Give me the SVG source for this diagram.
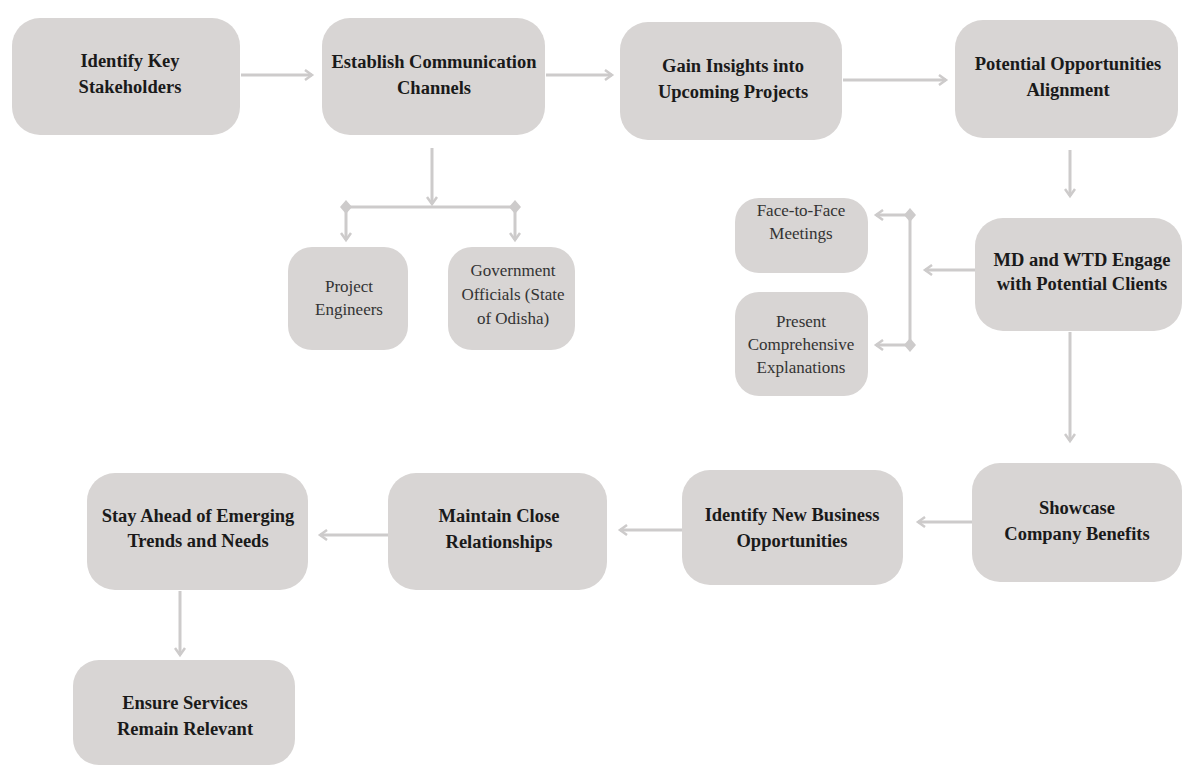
<svg xmlns="http://www.w3.org/2000/svg" width="1182" height="771" viewBox="0 0 1182 771">
<style>
.box{fill:#d8d5d4;}
.t{font-family:"Liberation Serif","Times New Roman",serif;font-weight:bold;font-size:18.5px;fill:#1a1a1a;text-anchor:middle;}
.s{font-family:"Liberation Serif","Times New Roman",serif;font-size:17px;fill:#333333;text-anchor:middle;}
.c{stroke:#cdcbcb;stroke-width:3;fill:none;}
.d{fill:#cdcbcb;}
</style>
<defs>
<marker id="a" markerWidth="12" markerHeight="12" refX="9" refY="6" orient="auto" markerUnits="userSpaceOnUse">
<path d="M2,1 L9,6 L2,11" fill="none" stroke="#cdcbcb" stroke-width="2.5"/>
</marker>
</defs>
<rect width="1182" height="771" fill="#ffffff"/>
<g id="connectors">
<line class="c" x1="241" y1="75" x2="312" y2="75" marker-end="url(#a)"/>
<line class="c" x1="546" y1="75" x2="612" y2="75" marker-end="url(#a)"/>
<line class="c" x1="843" y1="80" x2="946" y2="80" marker-end="url(#a)"/>
<line class="c" x1="432" y1="148" x2="432" y2="204" marker-end="url(#a)"/>
<line class="c" x1="346" y1="207" x2="515" y2="207"/>
<line class="c" x1="346" y1="207" x2="346" y2="240" marker-end="url(#a)"/>
<line class="c" x1="515" y1="207" x2="515" y2="240" marker-end="url(#a)"/>
<path class="d" d="M346,200 L352,207 L346,214 L340,207 Z"/>
<path class="d" d="M515,200 L521,207 L515,214 L509,207 Z"/>
<line class="c" x1="1070" y1="150" x2="1070" y2="196" marker-end="url(#a)"/>
<line class="c" x1="975" y1="270" x2="925" y2="270" marker-end="url(#a)"/>
<line class="c" x1="910" y1="215" x2="910" y2="345"/>
<line class="c" x1="910" y1="215" x2="876" y2="215" marker-end="url(#a)"/>
<line class="c" x1="910" y1="345" x2="876" y2="345" marker-end="url(#a)"/>
<path class="d" d="M910,208 L916,215 L910,222 L904,215 Z"/>
<path class="d" d="M910,338 L916,345 L910,352 L904,345 Z"/>
<line class="c" x1="1070" y1="332" x2="1070" y2="441" marker-end="url(#a)"/>
<line class="c" x1="972" y1="522" x2="918" y2="522" marker-end="url(#a)"/>
<line class="c" x1="682" y1="530" x2="620" y2="530" marker-end="url(#a)"/>
<line class="c" x1="388" y1="535" x2="320" y2="535" marker-end="url(#a)"/>
<line class="c" x1="180" y1="591" x2="180" y2="655" marker-end="url(#a)"/>
</g>
<g id="n1"><rect class="box" x="12" y="18" width="228" height="117" rx="28"/><text class="t" x="130" y="67">Identify Key</text><text class="t" x="130" y="93">Stakeholders</text></g>
<g id="n2"><rect class="box" x="322" y="18" width="223" height="117" rx="28"/><text class="t" x="434" y="68">Establish Communication</text><text class="t" x="434" y="94">Channels</text></g>
<g id="n3"><rect class="box" x="620" y="22" width="222" height="118" rx="28"/><text class="t" x="733" y="72">Gain Insights into</text><text class="t" x="733" y="98">Upcoming Projects</text></g>
<g id="n4"><rect class="box" x="955" y="20" width="223" height="118" rx="28"/><text class="t" x="1068" y="70">Potential Opportunities</text><text class="t" x="1068" y="96">Alignment</text></g>
<g id="n5"><rect class="box" x="288" y="247" width="120" height="103" rx="24"/><text class="s" x="349" y="292">Project</text><text class="s" x="349" y="315">Engineers</text></g>
<g id="n6"><rect class="box" x="448" y="247" width="127" height="103" rx="24"/><text class="s" x="513" y="276">Government</text><text class="s" x="513" y="300">Officials (State</text><text class="s" x="513" y="324">of Odisha)</text></g>
<g id="n7"><rect class="box" x="975" y="218" width="207" height="113" rx="28"/><text class="t" x="1082" y="266">MD and WTD Engage</text><text class="t" x="1082" y="290">with Potential Clients</text></g>
<g id="n8"><rect class="box" x="735" y="198" width="133" height="75" rx="24"/><text class="s" x="801" y="216">Face-to-Face</text><text class="s" x="801" y="239">Meetings</text></g>
<g id="n9"><rect class="box" x="735" y="292" width="133" height="104" rx="24"/><text class="s" x="801" y="327">Present</text><text class="s" x="801" y="350">Comprehensive</text><text class="s" x="801" y="373">Explanations</text></g>
<g id="n10"><rect class="box" x="972" y="463" width="210" height="119" rx="28"/><text class="t" x="1077" y="514">Showcase</text><text class="t" x="1077" y="540">Company Benefits</text></g>
<g id="n11"><rect class="box" x="682" y="470" width="221" height="115" rx="28"/><text class="t" x="792" y="521">Identify New Business</text><text class="t" x="792" y="547">Opportunities</text></g>
<g id="n12"><rect class="box" x="388" y="473" width="219" height="117" rx="28"/><text class="t" x="499" y="522">Maintain Close</text><text class="t" x="499" y="548">Relationships</text></g>
<g id="n13"><rect class="box" x="87" y="473" width="221" height="117" rx="28"/><text class="t" x="198" y="522">Stay Ahead of Emerging</text><text class="t" x="198" y="547">Trends and Needs</text></g>
<g id="n14"><rect class="box" x="73" y="660" width="222" height="105" rx="26"/><text class="t" x="185" y="709">Ensure Services</text><text class="t" x="185" y="735">Remain Relevant</text></g>
</svg>
